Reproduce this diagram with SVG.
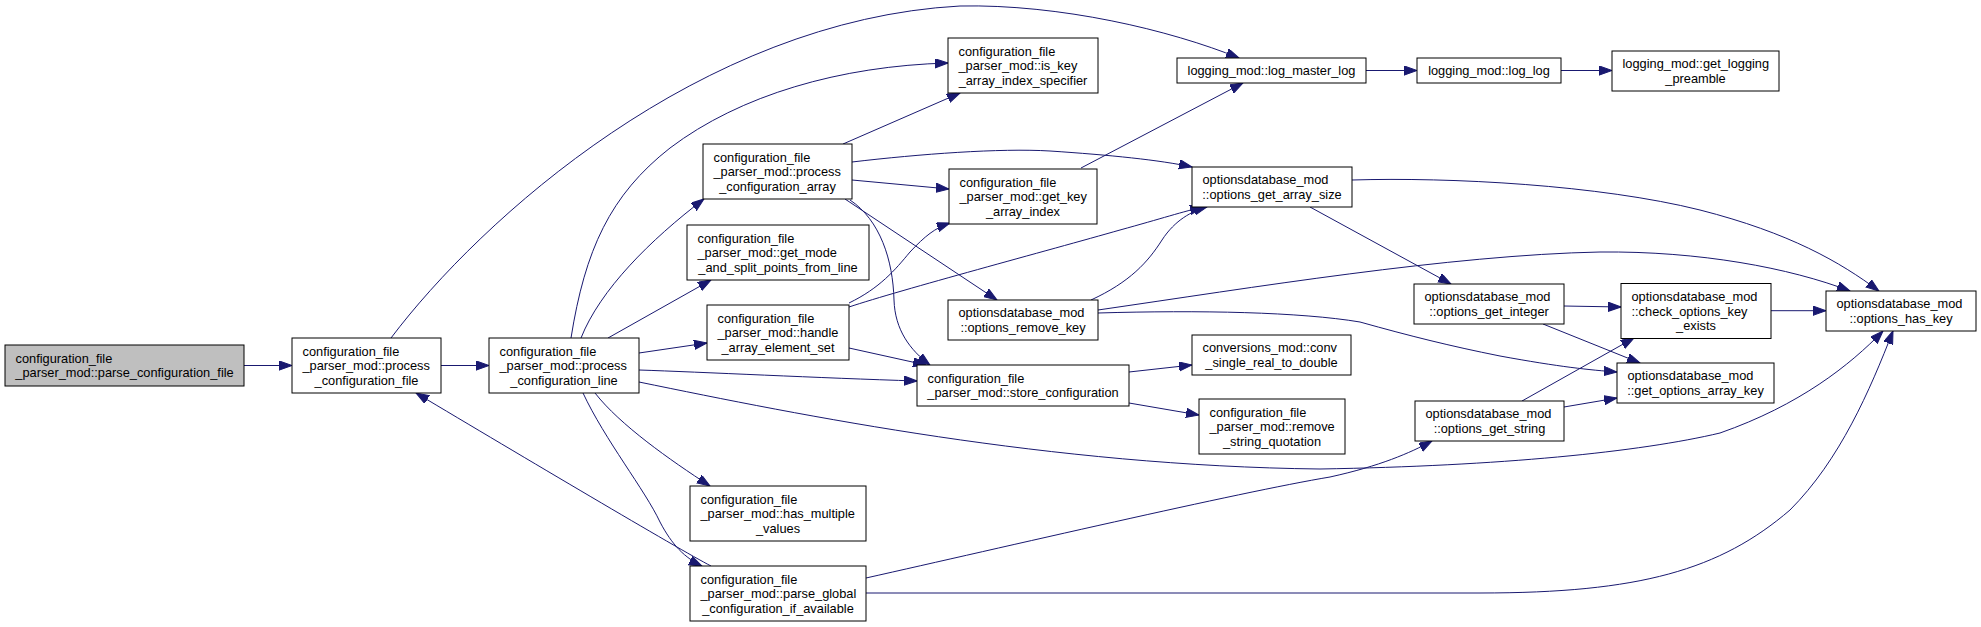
<svg xmlns="http://www.w3.org/2000/svg" width="1981" height="627" viewBox="0 0 1981 627">
<defs>
<marker id="ah" markerUnits="userSpaceOnUse" markerWidth="14" markerHeight="10" refX="13" refY="4.65" orient="auto">
<path d="M0,0 L13,4.65 L0,9.3 z" fill="#191970" stroke="#191970" stroke-width="1"/>
</marker>
<style>
.n rect{fill:#fff;stroke:#000;stroke-width:1}
.n.root rect{fill:#bfbfbf}
.n text{font-family:"Liberation Sans",Arial,sans-serif;font-size:12.8px;fill:#000}
.n text.c{text-anchor:middle}
#edges path{fill:none;stroke:#191970;stroke-width:1;marker-end:url(#ah)}
</style>
</defs>
<rect width="1981" height="627" fill="#fff"/>
<g id="edges">
<path d="M244,365.5 L292,365.5"/>
<path d="M441,365.5 L489,365.5"/>
<path d="M391,338 C480,220 700,20 960,6 C1060,4 1170,30 1239,58"/>
<path d="M571,338 C585,250 610,195 670,148 C740,95 840,66 948,63"/>
<path d="M581,338 C600,290 650,240 704,199"/>
<path d="M608,338 L711,280"/>
<path d="M639,353 L707,343"/>
<path d="M639,370 C700,372 820,378 917,381"/>
<path d="M639,382 C800,415 1050,466 1320,469 C1500,466 1640,452 1720,433 C1800,405 1850,365 1883,331"/>
<path d="M595,393 C620,425 670,460 710,486"/>
<path d="M583,393 C605,440 645,490 660,522 C672,545 685,558 702,566"/>
<path d="M711,566 C680,550 520,455 416,393"/>
<path d="M866,578 C1000,548 1240,492 1330,477 C1380,466 1410,453 1432,441"/>
<path d="M866,593 L1480,593 C1640,593 1720,570 1790,510 C1840,460 1870,390 1893,331"/>
<path d="M843,144 L960,93"/>
<path d="M852,162 C920,154 1000,148 1050,151 C1110,155 1160,160 1192,167"/>
<path d="M852,180 L949,189"/>
<path d="M845,199 L997,300"/>
<path d="M850,200 C880,220 893,260 894,300 C895,330 910,350 930,365"/>
<path d="M849,303 C880,288 895,270 910,252 C925,236 935,228 950,223"/>
<path d="M849,307 C900,290 1050,250 1120,230 C1160,219 1185,211 1203,207"/>
<path d="M849,348 L926,365"/>
<path d="M1081,168 L1243,83"/>
<path d="M1091,300 C1130,282 1148,262 1162,240 C1175,220 1192,211 1207,207"/>
<path d="M1098,310 C1250,288 1450,255 1600,252 C1700,251 1790,268 1850,291"/>
<path d="M1098,313 C1200,310 1300,312 1360,322 C1410,336 1450,346 1500,356 C1560,367 1590,370 1617,372"/>
<path d="M1310,207 L1451,284"/>
<path d="M1352,180 C1450,177 1600,185 1700,210 C1790,233 1840,262 1879,291"/>
<path d="M1366,70.5 L1417,70.5"/>
<path d="M1561,70.5 L1612,70.5"/>
<path d="M1129,372 L1192,365"/>
<path d="M1129,403 L1199,415"/>
<path d="M1564,306 L1621,307"/>
<path d="M1543,324 L1640,363"/>
<path d="M1770,310.7 L1826,310.7"/>
<path d="M1522,401 L1634,338"/>
<path d="M1564,407 L1617,398"/>
</g>
<g id="parse_configuration_file" class="n root"><rect x="5" y="345" width="239" height="41"/><text x="15.5" y="362.75">configuration_file</text><text class="c" x="124.5" y="377.25">_parser_mod::parse_configuration_file</text></g>
<g id="process_configuration_file" class="n"><rect x="292" y="338" width="149" height="55"/><text x="302.5" y="355.5">configuration_file</text><text x="302.5" y="370">_parser_mod::process</text><text class="c" x="366.5" y="384.5">_configuration_file</text></g>
<g id="process_configuration_line" class="n"><rect x="489" y="338" width="150" height="55"/><text x="499.5" y="355.5">configuration_file</text><text x="499.5" y="370">_parser_mod::process</text><text class="c" x="564" y="384.5">_configuration_line</text></g>
<g id="is_key_array_index_specifier" class="n"><rect x="948" y="38" width="150" height="55"/><text x="958.5" y="55.5">configuration_file</text><text x="958.5" y="70">_parser_mod::is_key</text><text class="c" x="1023" y="84.5">_array_index_specifier</text></g>
<g id="log_master_log" class="n"><rect x="1177" y="58" width="189" height="25"/><text class="c" x="1271.5" y="75">logging_mod::log_master_log</text></g>
<g id="process_configuration_array" class="n"><rect x="703" y="144" width="149" height="55"/><text x="713.5" y="161.5">configuration_file</text><text x="713.5" y="176">_parser_mod::process</text><text class="c" x="777.5" y="190.5">_configuration_array</text></g>
<g id="get_key_array_index" class="n"><rect x="949" y="169" width="148" height="55"/><text x="959.5" y="186.5">configuration_file</text><text x="959.5" y="201">_parser_mod::get_key</text><text class="c" x="1023" y="215.5">_array_index</text></g>
<g id="options_get_array_size" class="n"><rect x="1192" y="167" width="160" height="40"/><text x="1202.5" y="184.25">optionsdatabase_mod</text><text class="c" x="1272" y="198.75">::options_get_array_size</text></g>
<g id="get_mode_and_split_points_from_line" class="n"><rect x="687" y="225" width="182" height="55"/><text x="697.5" y="242.5">configuration_file</text><text x="697.5" y="257">_parser_mod::get_mode</text><text class="c" x="778" y="271.5">_and_split_points_from_line</text></g>
<g id="handle_array_element_set" class="n"><rect x="707" y="305" width="142" height="55"/><text x="717.5" y="322.5">configuration_file</text><text x="717.5" y="337">_parser_mod::handle</text><text class="c" x="778" y="351.5">_array_element_set</text></g>
<g id="options_remove_key" class="n"><rect x="948" y="300" width="150" height="40"/><text x="958.5" y="317.25">optionsdatabase_mod</text><text class="c" x="1023" y="331.75">::options_remove_key</text></g>
<g id="store_configuration" class="n"><rect x="917" y="365" width="212" height="41"/><text x="927.5" y="382.75">configuration_file</text><text class="c" x="1023" y="397.25">_parser_mod::store_configuration</text></g>
<g id="conv_single_real_to_double" class="n"><rect x="1192" y="335" width="159" height="40"/><text x="1202.5" y="352.25">conversions_mod::conv</text><text class="c" x="1271.5" y="366.75">_single_real_to_double</text></g>
<g id="remove_string_quotation" class="n"><rect x="1199" y="399" width="146" height="55"/><text x="1209.5" y="416.5">configuration_file</text><text x="1209.5" y="431">_parser_mod::remove</text><text class="c" x="1272" y="445.5">_string_quotation</text></g>
<g id="has_multiple_values" class="n"><rect x="690" y="486" width="176" height="55"/><text x="700.5" y="503.5">configuration_file</text><text x="700.5" y="518">_parser_mod::has_multiple</text><text class="c" x="778" y="532.5">_values</text></g>
<g id="parse_global_configuration_if_available" class="n"><rect x="690" y="566" width="176" height="55"/><text x="700.5" y="583.5">configuration_file</text><text x="700.5" y="598">_parser_mod::parse_global</text><text class="c" x="778" y="612.5">_configuration_if_available</text></g>
<g id="log_log" class="n"><rect x="1417" y="58" width="144" height="25"/><text class="c" x="1489" y="75">logging_mod::log_log</text></g>
<g id="get_logging_preamble" class="n"><rect x="1612" y="51" width="167" height="40"/><text x="1622.5" y="68.25">logging_mod::get_logging</text><text class="c" x="1695.5" y="82.75">_preamble</text></g>
<g id="options_get_integer" class="n"><rect x="1414" y="284" width="150" height="40"/><text x="1424.5" y="301.25">optionsdatabase_mod</text><text class="c" x="1489" y="315.75">::options_get_integer</text></g>
<g id="check_options_key_exists" class="n"><rect x="1621" y="283.5" width="150" height="55"/><text x="1631.5" y="301">optionsdatabase_mod</text><text x="1631.5" y="315.5">::check_options_key</text><text class="c" x="1696" y="330">_exists</text></g>
<g id="options_has_key" class="n"><rect x="1826" y="291" width="150" height="40"/><text x="1836.5" y="308.25">optionsdatabase_mod</text><text class="c" x="1901" y="322.75">::options_has_key</text></g>
<g id="get_options_array_key" class="n"><rect x="1617" y="363" width="157" height="40"/><text x="1627.5" y="380.25">optionsdatabase_mod</text><text class="c" x="1695.5" y="394.75">::get_options_array_key</text></g>
<g id="options_get_string" class="n"><rect x="1415" y="401" width="149" height="40"/><text x="1425.5" y="418.25">optionsdatabase_mod</text><text class="c" x="1489.5" y="432.75">::options_get_string</text></g>
</svg>
